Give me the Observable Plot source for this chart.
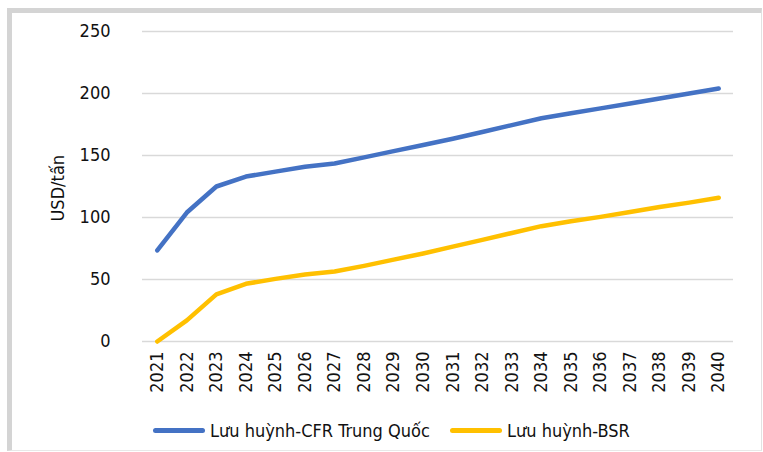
<!DOCTYPE html>
<html>
<head>
<meta charset="utf-8">
<script src="https://cdn.jsdelivr.net/npm/d3@7"></script>
<script src="https://cdn.jsdelivr.net/npm/@observablehq/plot@0.6"></script>
<style>
  body { margin: 0; background: #fff; }
  #wrap { position: relative; width: 763px; height: 452px; overflow: hidden; font-family: "Liberation Sans Narrow", "DejaVu Sans Condensed", sans-serif; }
  #frame { position: absolute; left: 7px; top: 8px; width: 749px; height: 437px; border-left: 5px solid #d4d4d4; border-top: 5px solid #d4d4d4; border-right: 1px solid #e2e2e2; border-bottom: 1px solid #e8e8e8; }
  #chart { position: absolute; left: 0; top: 0; }
  .leg { position: absolute; top: 420px; display: flex; align-items: center; font-size: 18px; color: #111; }
  .sw { display: inline-block; width: 52px; height: 5px; border-radius: 3px; margin-right: 5px; }
</style>
</head>
<body>
<div id="wrap">
  <div id="frame"></div>
  <div id="chart"></div>
  <div id="legend"></div>
</div>
<script>
const years = ["2021","2022","2023","2024","2025","2026","2027","2028","2029","2030","2031","2032","2033","2034","2035","2036","2037","2038","2039","2040"];
const cfrChina = [73.5, 104, 125, 133, 137, 141, 143.5, 148.5, 153.5, 158.5, 163.5, 169, 174.5, 180, 184, 188, 192, 196, 200, 204];
const bsr = [0, 17, 38, 46.5, 50.5, 54, 56.5, 61, 66, 71, 76.5, 82, 87.5, 93, 97, 100.5, 104.5, 108.5, 112, 116];
const seriesNames = ["Lưu huỳnh-CFR Trung Quốc", "Lưu huỳnh-BSR"];
const seriesColors = ["#4472C4", "#FFC000"];
const yTicks = [0, 50, 100, 150, 200, 250];
const yLabel = "USD/tấn";

const rows = [];
years.forEach((y, i) => {
  rows.push({year: y, value: cfrChina[i], series: seriesNames[0]});
  rows.push({year: y, value: bsr[i], series: seriesNames[1]});
});

const fontFamily = '"Liberation Sans Narrow", "DejaVu Sans Condensed", sans-serif';

const chart = Plot.plot({
  width: 763,
  height: 410,
  marginLeft: 142,
  marginRight: 30,
  marginTop: 31,
  marginBottom: 69,
  style: {fontFamily, fontSize: "18px", color: "#111", background: "transparent"},
  x: {type: "point", domain: years, padding: 0.5, round: false, label: null},
  y: {domain: [0, 250], label: null},
  color: {domain: seriesNames, range: seriesColors},
  marks: [
    Plot.ruleY(yTicks, {stroke: "#d9d9d9", strokeWidth: 1.5}),
    Plot.axisY({ticks: yTicks, tickSize: 0, tickPadding: 32, label: null, fontSize: 18}),
    Plot.axisX({tickSize: 0, tickRotate: -90, tickPadding: 10, label: null, fontSize: 18}),
    Plot.line(rows, {x: "year", y: "value", z: "series", stroke: "series", strokeWidth: 4.5, strokeLinecap: "round", strokeLinejoin: "round"}),
    Plot.text([yLabel], {frameAnchor: "left", dx: -84, rotate: -90, fontSize: 18, fill: "#111", dy: 35})
  ]
});
document.getElementById("chart").appendChild(chart);

const legend = document.getElementById("legend");
const legX = [153, 450];
seriesNames.forEach((n, i) => {
  const d = document.createElement("div");
  d.className = "leg";
  d.style.left = legX[i] + "px";
  d.innerHTML = `<span class="sw" style="background:${seriesColors[i]}"></span><span>${n}</span>`;
  legend.appendChild(d);
});
</script>
</body>
</html>
